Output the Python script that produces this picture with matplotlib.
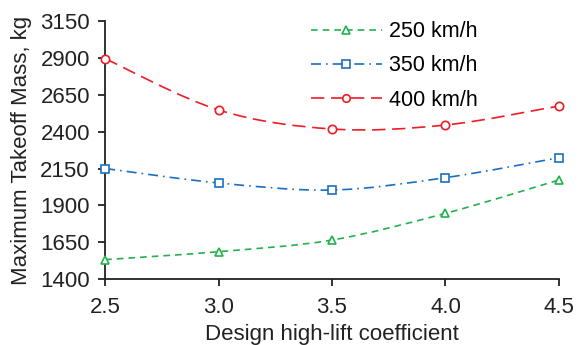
import numpy as np
import matplotlib
matplotlib.use("Agg")
import matplotlib.pyplot as plt
from matplotlib.path import Path
from matplotlib.patches import PathPatch
from matplotlib.lines import Line2D

plt.rcParams['font.family'] = ['Liberation Sans', 'DejaVu Sans']

# ── Data ────────────────────────────────────────────────────
cl_design = [2.5, 3.0, 3.5, 4.0, 4.5]
mtom_250 = [1532, 1586, 1665, 1846, 2072]
mtom_350 = [2150, 2052, 2004, 2088, 2223]
mtom_400 = [2895, 2547, 2418, 2445, 2574]
labels = ["250 km/h", "350 km/h", "400 km/h"]


def smooth_path(x, y):
    # Catmull-Rom style Bezier through the points (like spreadsheet "smoothed line")
    x = np.asarray(x, float)
    y = np.asarray(y, float)
    n = len(x)
    verts = [(x[0], y[0])]
    codes = [Path.MOVETO]
    for i in range(n - 1):
        p0 = (x[max(i - 1, 0)], y[max(i - 1, 0)])
        p1 = (x[i], y[i])
        p2 = (x[i + 1], y[i + 1])
        p3 = (x[min(i + 2, n - 1)], y[min(i + 2, n - 1)])
        c1 = (p1[0] + (p2[0] - p0[0]) / 6, p1[1] + (p2[1] - p0[1]) / 6)
        c2 = (p2[0] - (p3[0] - p1[0]) / 6, p2[1] - (p3[1] - p1[1]) / 6)
        verts += [c1, c2, p2]
        codes += [Path.CURVE4] * 3
    return Path(verts, codes)


fig = plt.figure(figsize=(5.81, 3.45), dpi=100)
ax = fig.add_axes([0.181, 0.191, 0.781, 0.748])

styles = [
    dict(color='#22b14c', ls=(0, (4, 3)), marker='^'),
    dict(color='#1b6fc0', ls=(0, (6, 3, 1, 3)), marker='s'),
    dict(color='#ee1c25', ls=(0, (8, 4)), marker='o'),
]
handles = []
for yvals, st, lab in zip([mtom_250, mtom_350, mtom_400], styles, labels):
    patch = PathPatch(smooth_path(cl_design, yvals), fill=False,
                      edgecolor=st['color'], linestyle=st['ls'], lw=1.2)
    ax.add_patch(patch)
    ax.plot(cl_design, yvals, ls='none', marker=st['marker'], ms=6,
            mfc='white', mec=st['color'], mew=1.2, clip_on=False, zorder=5)
    handles.append(Line2D([], [], color=st['color'], ls=st['ls'], lw=1.2,
                          marker=st['marker'], ms=6, mfc='white',
                          mec=st['color'], mew=1.2, label=lab))

ax.set_xlim(2.5, 4.5)
ax.set_ylim(1400, 3150)
ax.set_xticks(cl_design)
ax.set_xticklabels([f"{v:.1f}" for v in cl_design])
ax.set_yticks(np.arange(1400, 3151, 250))
ax.spines['top'].set_visible(False)
ax.spines['right'].set_visible(False)
for s in ['left', 'bottom']:
    ax.spines[s].set_linewidth(1.3)
    ax.spines[s].set_color('#222222')
ax.tick_params(direction='out', length=5, width=1.3, labelsize=16,
               colors='#222222', pad=6)
ax.tick_params(axis='x', pad=8)

ax.set_xlabel("Design high-lift coefficient", fontsize=16, color='#222222',
              labelpad=4)
ax.set_ylabel("Maximum Takeoff Mass, kg", fontsize=16, color='#222222',
              labelpad=6)

ax.legend(handles=handles, loc='upper left', bbox_to_anchor=(0.41, 1.075),
          frameon=False, fontsize=15.5, handlelength=3.3, handletextpad=0.35,
          labelspacing=0.62, markerscale=0.9)

fig.savefig("out.png", dpi=100)
